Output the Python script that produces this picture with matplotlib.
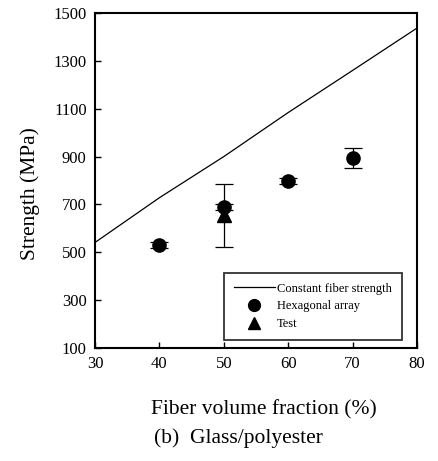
import matplotlib
matplotlib.use("Agg")
import matplotlib.pyplot as plt
from matplotlib.lines import Line2D

plt.rcParams['font.family'] = ['Liberation Serif', 'DejaVu Serif']

# Data
line_x = [30, 40, 50, 60, 70, 80]
line_y = [541, 728, 900, 1084, 1260, 1437]

hex_x = [40, 50, 60, 70]
hex_y = [530, 689, 798, 894]
hex_err = [12, 14, 12, 40]

test_x = [50]
test_y = [655]
test_err = [132]

xticks = [30, 40, 50, 60, 70, 80]
yticks = [100, 300, 500, 700, 900, 1100, 1300, 1500]

fig = plt.figure(figsize=(4.38, 4.61), dpi=100)
ax = fig.add_axes([95/438, 1-348/461, (417-95)/438, (348-13)/461])

ax.plot(line_x, line_y, color='black', lw=0.9)
ax.errorbar(test_x, test_y, yerr=test_err, fmt='^', color='black', ms=9.5,
            ecolor='black', elinewidth=0.9, capsize=6.5, capthick=0.9)
ax.errorbar(hex_x, hex_y, yerr=hex_err, fmt='o', color='black', ms=9.5,
            ecolor='black', elinewidth=0.9, capsize=6.5, capthick=0.9)

ax.set_xlim(30, 80)
ax.set_ylim(100, 1500)
ax.set_xticks(xticks)
ax.set_yticks(yticks)
ax.tick_params(direction='in', length=4.5, width=1.0, labelsize=12, pad=6)
for s in ax.spines.values():
    s.set_linewidth(1.5)

ax.set_xlabel('Fiber volume fraction (%)', fontsize=15.5)
ax.xaxis.set_label_coords(0.525, -0.185)
ax.xaxis.label.set_va('center')
ax.set_ylabel('Strength (MPa)', fontsize=15.5)
ax.yaxis.set_label_coords(-0.202, 0.46)
ax.yaxis.label.set_va('center')
fig.text(238/438, 1-438/461, '(b)  Glass/polyester', fontsize=15.5,
         ha='center', va='center')

handles = [Line2D([], [], color='black', lw=0.9),
           Line2D([], [], marker='o', color='black', ls='none', ms=8.5),
           Line2D([], [], marker='^', color='black', ls='none', ms=8.5)]
labels = ['Constant fiber strength', 'Hexagonal array', 'Test']
leg = ax.legend(handles, labels, loc='lower right', bbox_to_anchor=(0.953, 0.024),
                fontsize=9, frameon=True, fancybox=False, edgecolor='black',
                handlelength=3.3, handletextpad=0.15, borderpad=0.8,
                labelspacing=0.45, borderaxespad=0.0)
leg.get_frame().set_linewidth(1.3)

fig.savefig('out.png', dpi=100)
